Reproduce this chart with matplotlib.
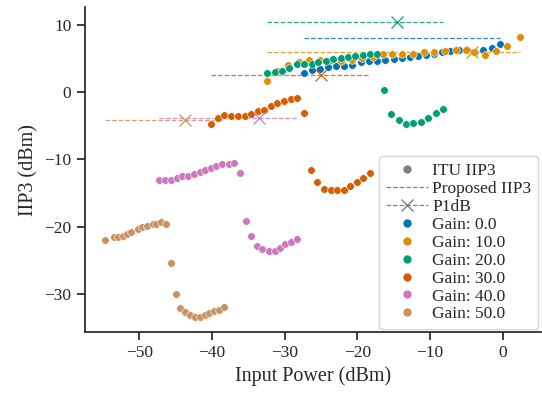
import numpy as np
import matplotlib
matplotlib.use("Agg")
import matplotlib.pyplot as plt
import seaborn as sns
from matplotlib.lines import Line2D

sns.set_theme(context="notebook", style="ticks")
plt.rcParams['font.family'] = ['Liberation Serif', 'DejaVu Serif']

gains = [0.0, 10.0, 20.0, 30.0, 40.0, 50.0]
colors = sns.color_palette("colorblind", 6)

# input power (dBm) / ITU IIP3 (dBm) per gain
x_g0 = [-27.4, -26.3, -25.2, -24.0, -22.9, -21.8, -20.7, -19.5, -18.4, -17.3, -16.2, -15.0, -13.9,
        -12.8, -11.7, -10.5, -9.4, -8.3, -7.2, -6.0, -4.9, -3.8, -2.7, -1.5, -0.4]
y_g0 = [2.9, 3.2, 3.4, 3.7, 3.9, 3.9, 4.0, 4.5, 4.6, 4.6, 4.8, 4.9, 5.0,
        5.2, 5.4, 5.5, 5.7, 5.9, 6.1, 6.2, 6.3, 6.0, 6.3, 6.5, 7.2]
x_g10 = [-32.4, -31.0, -29.5, -28.1, -26.6, -25.2, -23.7, -22.3, -20.8, -19.4, -17.9, -16.5, -15.2,
         -13.8, -12.4, -10.9, -9.4, -8.0, -6.5, -5.1, -3.9, -2.4, -0.9, 0.6, 2.4]
y_g10 = [1.7, 3.1, 4.0, 4.5, 4.8, 4.7, 4.7, 4.6, 4.8, 5.0, 5.2, 5.6, 5.6,
         5.7, 5.7, 5.9, 6.0, 6.1, 6.2, 6.3, 5.9, 5.5, 6.1, 6.9, 8.2]
x_g20 = [-32.4, -31.4, -30.4, -29.4, -28.3, -27.3, -26.3, -25.4, -24.3, -23.3, -22.3, -21.3, -20.3,
         -19.3, -18.3, -17.3, -16.3, -15.4, -14.3, -13.3, -12.3, -11.3, -10.3, -9.2, -8.2]
y_g20 = [2.8, 3.0, 3.1, 3.6, 4.1, 4.2, 4.2, 4.5, 4.6, 4.9, 5.0, 5.2, 5.4,
         5.5, 5.6, 5.6, 0.3, -3.2, -4.1, -4.7, -4.6, -4.4, -3.8, -3.1, -2.5]
x_g30 = [-40.2, -39.2, -38.3, -37.4, -36.5, -35.5, -34.6, -33.7, -32.9, -31.9, -31.0, -30.1, -29.2,
         -28.3, -27.4, -26.4, -25.6, -24.6, -23.7, -22.8, -21.9, -21.0, -20.1, -19.2, -18.3]
y_g30 = [-4.8, -3.9, -3.4, -3.5, -3.5, -3.6, -3.2, -2.8, -2.7, -2.0, -1.6, -1.3, -1.1,
         -0.9, -3.1, -11.5, -13.4, -14.4, -14.6, -14.6, -14.6, -13.9, -13.3, -12.8, -12.0]
x_g40 = [-47.3, -46.5, -45.6, -44.9, -44.1, -43.3, -42.5, -41.7, -41.0, -40.2, -39.4, -38.6, -37.7,
         -37.0, -36.1, -35.4, -34.6, -33.8, -33.1, -32.2, -31.4, -30.6, -29.9, -29.1, -28.3]
y_g40 = [-13.0, -13.0, -13.1, -12.7, -12.5, -12.5, -12.2, -11.8, -11.5, -11.2, -10.9, -10.7, -10.6,
         -10.5, -12.0, -19.2, -21.4, -22.8, -23.3, -23.6, -23.6, -23.2, -22.6, -22.2, -21.8]
x_g50 = [-54.7, -53.5, -53.0, -52.3, -51.7, -51.1, -50.2, -49.6, -49.0, -48.2, -47.7, -47.0, -46.4,
         -45.7, -45.0, -44.4, -43.7, -43.0, -42.4, -41.7, -41.0, -40.4, -39.7, -39.1, -38.4]
y_g50 = [-22.0, -21.5, -21.5, -21.3, -21.0, -20.8, -20.3, -20.0, -19.9, -19.5, -19.5, -19.3, -19.5,
         -25.4, -30.0, -32.0, -32.7, -33.1, -33.4, -33.3, -33.1, -32.8, -32.5, -32.3, -31.9]

xs = [x_g0, x_g10, x_g20, x_g30, x_g40, x_g50]
ys = [y_g0, y_g10, y_g20, y_g30, y_g40, y_g50]

# proposed IIP3 level and P1dB input power per gain
proposed_iip3 = [7.95, 5.9, 10.4, 2.5, -3.8, -4.15]
p1db_in = [np.nan, -4.2, -14.6, -25.0, -33.6, -43.7]

fig, ax = plt.subplots(figsize=(5.42, 3.99), dpi=100)
fig.subplots_adjust(left=0.156, right=0.998, top=0.982, bottom=0.168)

for i, g in enumerate(gains):
    c = colors[i]
    ax.plot([min(xs[i]), max(xs[i])], [proposed_iip3[i]] * 2, '--', color=c, lw=0.9, alpha=0.85, zorder=1)
    ax.scatter(xs[i], ys[i], s=30, color=c, edgecolor='white', linewidth=0.4, zorder=2)
    if not np.isnan(p1db_in[i]):
        ax.plot(p1db_in[i], proposed_iip3[i], 'x', color=c, ms=9, mew=1.0, alpha=0.85, zorder=3)

ax.set_xlabel("Input Power (dBm)", fontsize=14.5)
ax.set_ylabel("IIP3 (dBm)", fontsize=14.5)
ax.tick_params(labelsize=12.5)
sns.despine(ax=ax)

handles = [
    Line2D([], [], marker='o', ls='none', color='grey', markersize=7, markeredgecolor='white'),
    Line2D([], [], ls='--', color='grey', lw=0.9),
    Line2D([], [], ls='--', marker='x', color='grey', lw=0.9, ms=9),
]
labels = ["ITU IIP3", "Proposed IIP3", "P1dB"]
for i, g in enumerate(gains):
    handles.append(Line2D([], [], marker='o', ls='none', color=colors[i], markersize=7,
                          markeredgecolor='white'))
    labels.append(f"Gain: {g}")
ax.legend(handles, labels, loc='lower right', fontsize=12.5, labelspacing=0.1,
          handlelength=2.4, handletextpad=0.25, borderpad=0.4, borderaxespad=0.15,
          frameon=True)

fig.savefig("out.png", dpi=100)
